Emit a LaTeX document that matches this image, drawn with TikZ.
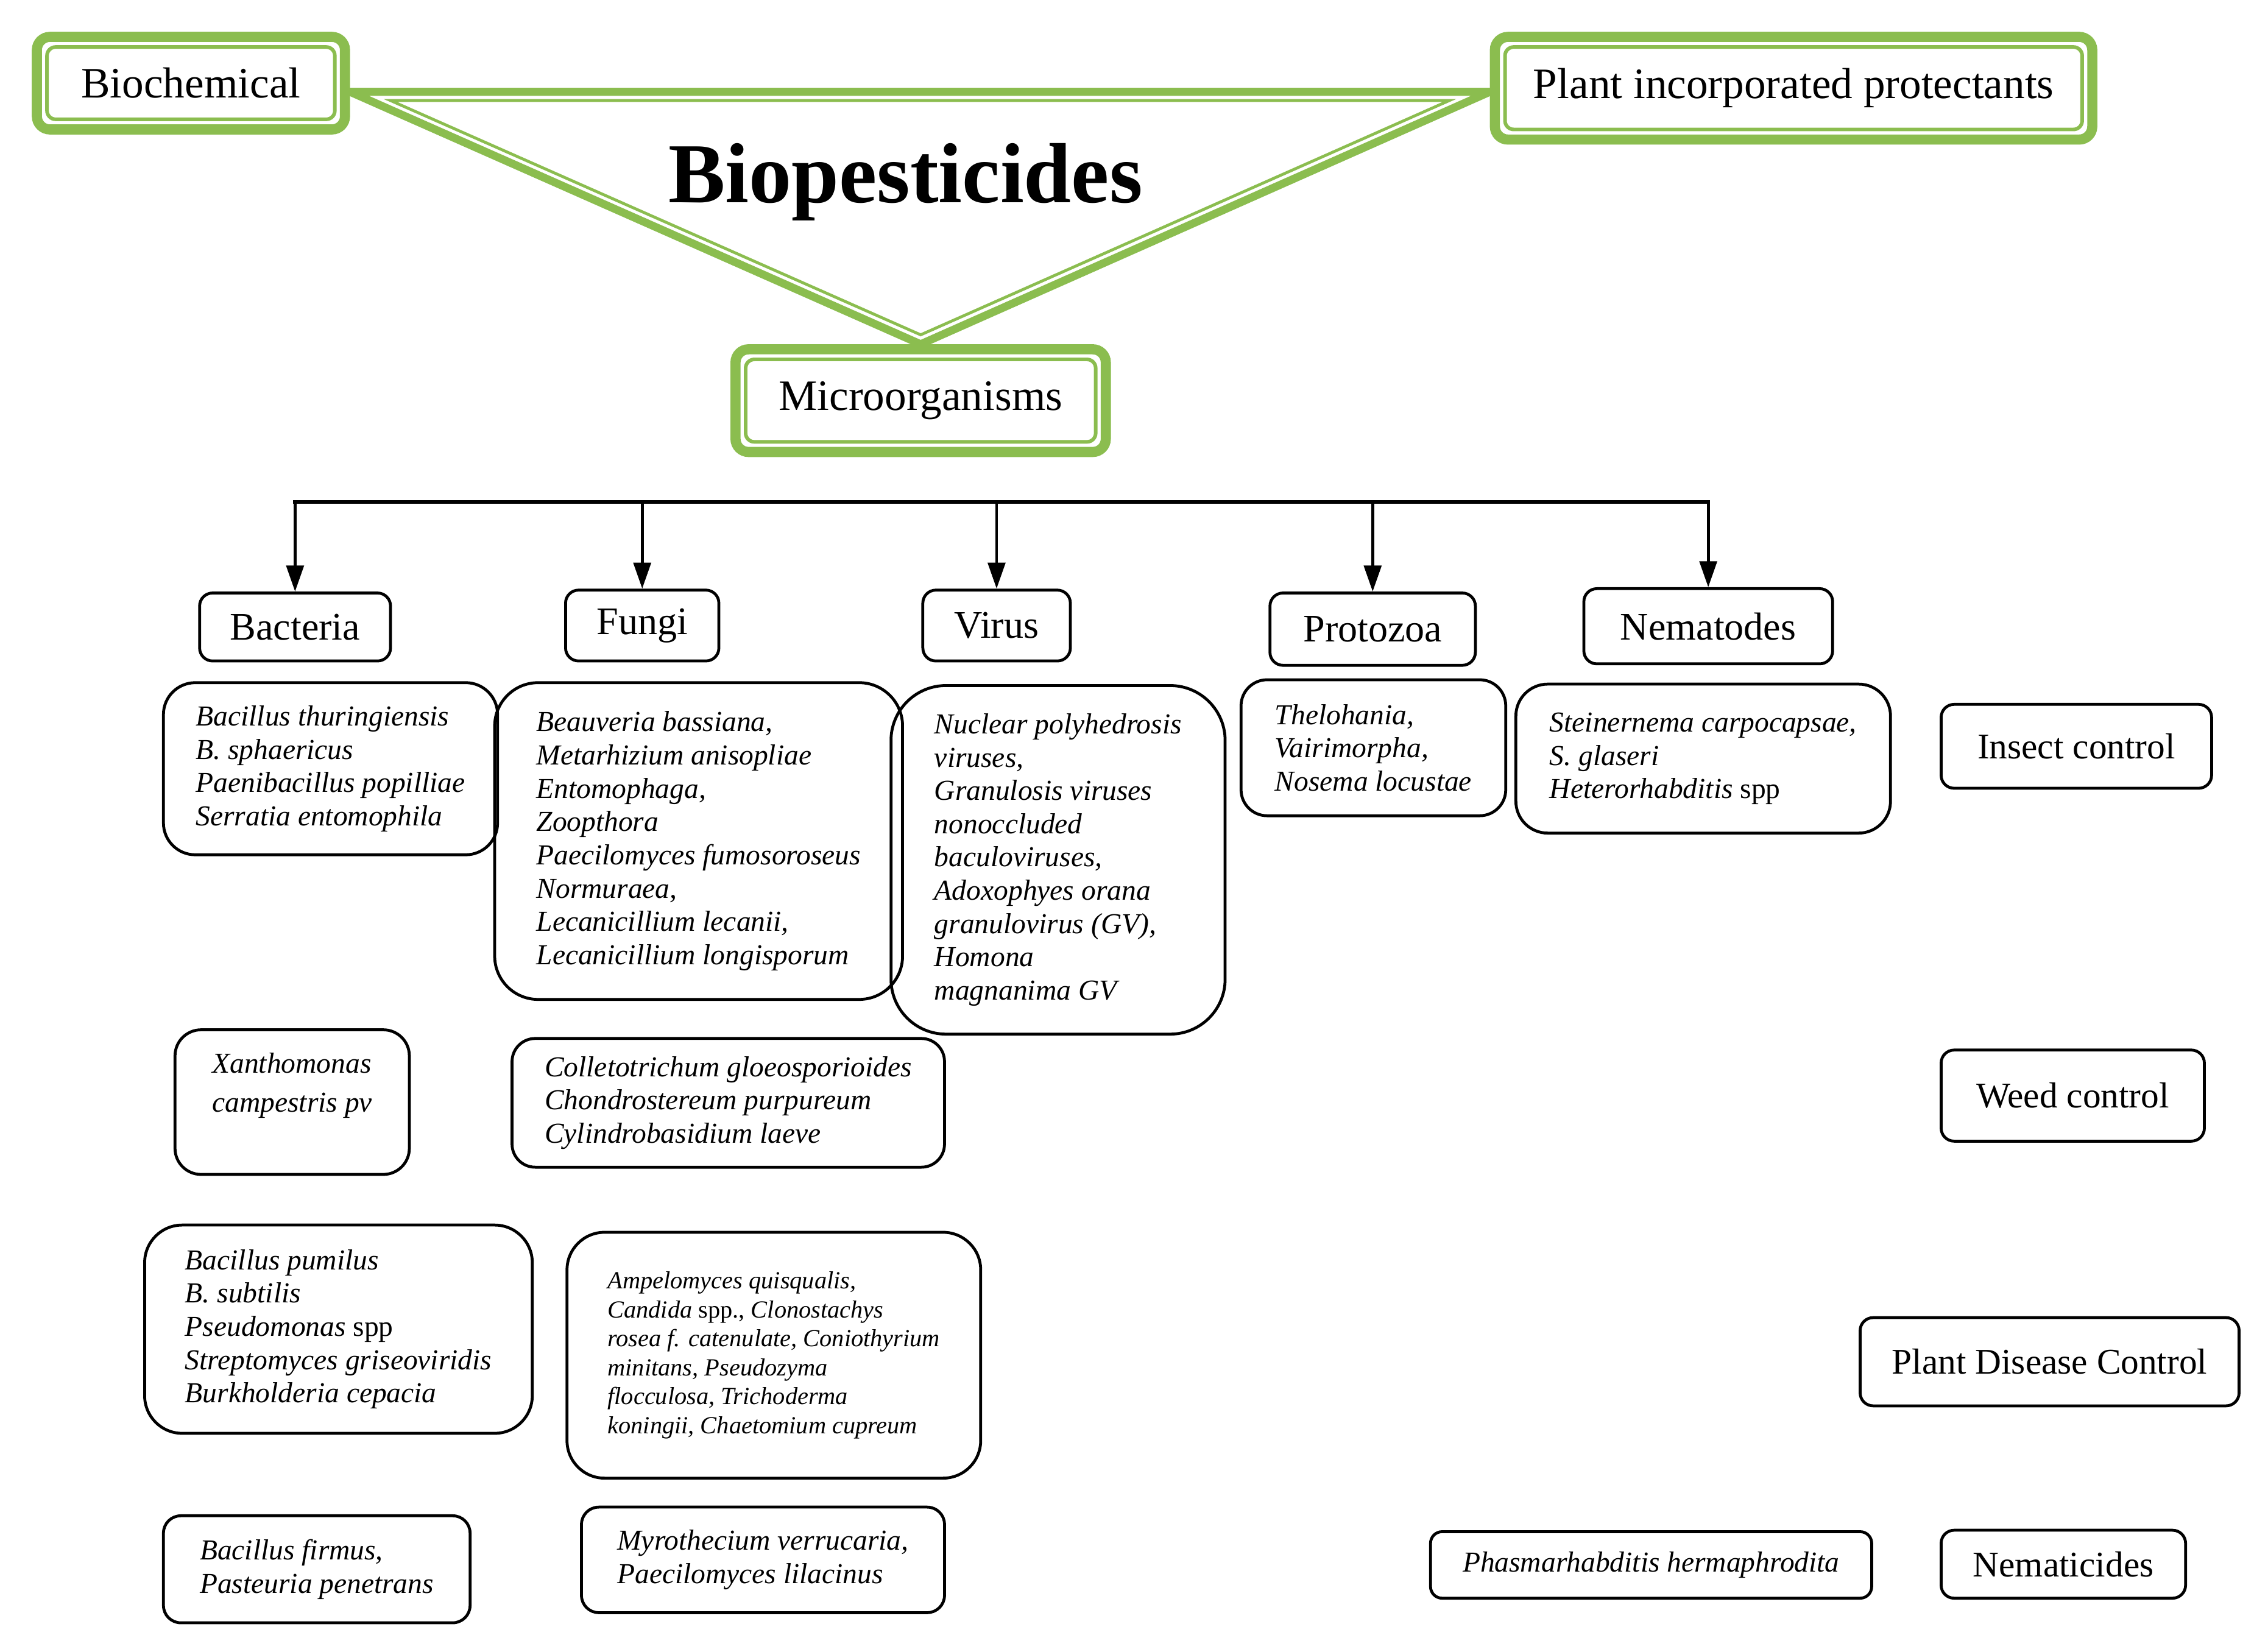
\documentclass[tikz,border=0pt]{standalone}
\usepackage{fontspec}
\setmainfont{Liberation Serif}
\usepackage{xcolor}
\definecolor{leafgreen}{RGB}{139,189,79}
\usepackage{tikz}
\usetikzlibrary{arrows.meta,positioning,backgrounds,calc}

\begin{document}
\begin{tikzpicture}[
  x=1pt, y=-1pt,
  greenbox/.style 2 args={
    draw=leafgreen,
    line width=7pt,
    fill=white,
    rounded corners=9pt,
    minimum width=#1,
    minimum height=#2,
    font=\fontsize{30}{34}\selectfont
    },
  innerframe/.style={
    draw=leafgreen,
    line width=2.5pt,
    rounded corners=6pt
    },
  catbox/.style 2 args={
    draw,
    line width=2pt,
    fill=white,
    rounded corners=9pt,
    minimum width=#1,
    minimum height=#2,
    font=\fontsize{27}{30}\selectfont
    },
  usebox/.style 2 args={
    draw,
    line width=2pt,
    rounded corners=9pt,
    minimum width=#1,
    minimum height=#2,
    font=\fontsize{25}{28}\selectfont
    },
  spbox/.style n args={3}{
    draw,
    line width=2pt,
    rounded corners=#3,
    minimum width=#1,
    minimum height=#2,
    align=left,
    inner sep=2pt,
    font=\fontsize{20}{23}\selectfont\itshape
    },
  tri/.style={draw=leafgreen, line width=5.5pt},
  trithin/.style={draw=leafgreen, line width=2pt},
  bus/.style={line width=2.5pt, line cap=rect},
  arr/.style={line width=2pt, -{Triangle[length=18pt,width=12pt]}}
]
\useasboundingbox (0,0) rectangle (1568,1142);

% top: the three groups round the title
\node[greenbox={213pt}{64pt}] at (132,57.5) (bio) {Biochemical};
\node[greenbox={413pt}{71pt}] at (1240,61) (pip) {Plant incorporated protectants};
\node[greenbox={256pt}{71pt}] at (636.5,277) (micro) {Microorganisms};
\node[font=\fontsize{59}{64}\selectfont\bfseries, anchor=base] at (626,140) (title) {Biopesticides};

\foreach \n in {bio,pip,micro}
  \draw[innerframe] ([shift={(10.5pt,-10.5pt)}]\n.north west) rectangle ([shift={(-10.5pt,10.5pt)}]\n.south east);

\begin{scope}[on background layer]
  \coordinate (tl) at ([yshift=-6pt]bio.east);
  \coordinate (tr) at ([yshift=-2.5pt]pip.west);
  \draw[tri] (tl) -- (tr) -- (micro.north) -- cycle;
  \draw[trithin] ([shift={(28pt,-6pt)}]tl) -- ([shift={(-28pt,-6pt)}]tr) -- ([yshift=6.5pt]micro.north) -- cycle;
\end{scope}

% groups of microorganisms
\node[catbox={132pt}{47pt}] at (204,433.5) (bact) {Bacteria};
\node[catbox={106pt}{49pt}] at (444,432.5) (fungi) {Fungi};
\node[catbox={102pt}{49pt}] at (689,432.5) (virus) {Virus};
\node[catbox={142pt}{50pt}] at (949,435) (proto) {Protozoa};
\node[catbox={172pt}{52pt}] at (1181,433) (nema) {Nematodes};

\coordinate (busy) at (0,347);
\draw[bus] (bact.north |- busy) -- (nema.north |- busy);
\foreach \c in {bact,fungi,virus,proto,nema}
  \draw[arr] (\c.north |- busy) -- (\c.north);

% insect control
\node[spbox={231pt}{119pt}{22pt}] at (228.5,531.5) (bins)
  {Bacillus thuringiensis\\ B. sphaericus\\ Paenibacillus popilliae\\ Serratia entomophila};
\node[spbox={282pt}{219pt}{30pt}] at (483,581.5) (fins)
  {Beauveria bassiana,\\ Metarhizium anisopliae\\ Entomophaga,\\ Zoopthora\\ Paecilomyces fumosoroseus\\ Normuraea,\\ Lecanicillium lecanii,\\ Lecanicillium longisporum};
\node[spbox={231pt}{241pt}{38pt}] at (731.5,594.5) (vins)
  {Nuclear polyhedrosis\\ viruses,\\ Granulosis viruses\\ nonoccluded\\ baculoviruses,\\ Adoxophyes orana\\ granulovirus (GV),\\ Homona\\ magnanima GV};
\node[spbox={183pt}{94pt}{18pt}] at (949.5,517) (pins)
  {Thelohania,\\ Vairimorpha,\\ Nosema locustae};
\node[spbox={259pt}{103pt}{22pt}] at (1177.5,524.5) (nins)
  {Steinernema carpocapsae,\\ S. glaseri\\ Heterorhabditis \textup{spp}};
\node[usebox={187pt}{58pt}] at (1435.5,516) (insect) {Insect control};

% weed control
\node[spbox={162pt}{100pt}{18pt}, font=\fontsize{20}{27}\selectfont\itshape] at (202,762) (bweed)
  {Xanthomonas\\ campestris pv\\ \mbox{}};
\node[spbox={299pt}{89pt}{16pt}] at (503.5,762.5) (fweed)
  {Colletotrichum gloeosporioides\\ Chondrostereum purpureum\\ Cylindrobasidium laeve};
\node[usebox={182pt}{63pt}] at (1433,757.5) (weed) {Weed control};

% plant disease control
\node[spbox={268pt}{144pt}{26pt}] at (234,919) (bdis)
  {Bacillus pumilus\\ B. subtilis\\ Pseudomonas \textup{spp}\\ Streptomyces griseoviridis\\ Burkholderia cepacia};
\node[spbox={286pt}{170pt}{26pt}, font=\fontsize{17}{20}\selectfont\itshape] at (535,937) (fdis)
  {Ampelomyces quisqualis,\\ Candida \textup{spp.,} Clonostachys\\ rosea f. catenulate, Coniothyrium\\ minitans, Pseudozyma\\ flocculosa, Trichoderma\\ koningii, Chaetomium cupreum};
\node[usebox={262pt}{61pt}] at (1417,941.5) (disease) {Plant Disease Control};

% nematicides
\node[spbox={212pt}{74pt}{12pt}] at (219,1085) (bnem)
  {Bacillus firmus,\\ Pasteuria penetrans};
\node[spbox={251pt}{73pt}{12pt}] at (527.5,1078.5) (fnem)
  {Myrothecium verrucaria,\\ Paecilomyces lilacinus};
\node[spbox={305pt}{46pt}{8pt}] at (1141.5,1082) (nnem)
  {Phasmarhabditis hermaphrodita};
\node[usebox={169pt}{47pt}] at (1426.5,1081.5) (nemat) {Nematicides};

\end{tikzpicture}
\end{document}
